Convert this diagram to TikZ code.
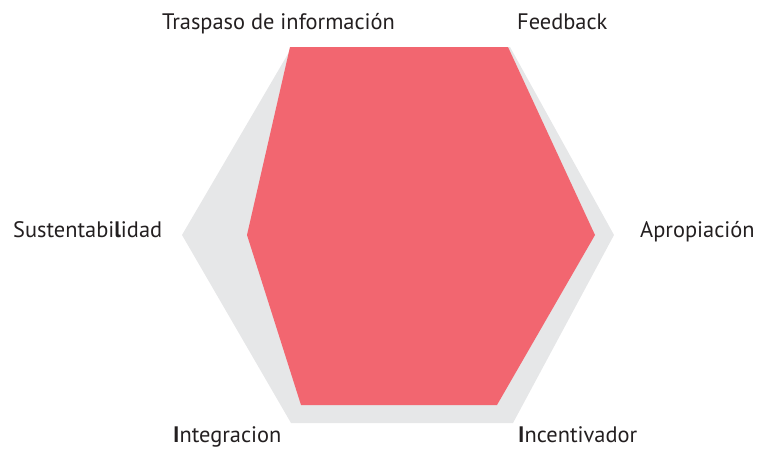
\documentclass[tikz,border=0pt]{standalone}
\usepackage{fontspec}
\setmainfont{PT Sans}
\definecolor{hexred}{HTML}{F26670}
\definecolor{hexgray}{HTML}{E6E7E8}
\definecolor{txt}{HTML}{231F20}
\begin{document}
\begin{tikzpicture}[x=1pt,y=-1pt,
  lbl/.style={anchor=base west,inner sep=0pt,font=\fontsize{22.4}{26}\selectfont,text=txt}]
\useasboundingbox (0,0) rectangle (761,455);
\fill[hexgray] (292,47) -- (510,47) -- (614,235) -- (513,423) -- (291,423) -- (182,235) -- cycle;
\fill[hexred] (290,47) -- (508,47) -- (595,235) -- (497,405) -- (301,405) -- (247,235) -- cycle;
\node[lbl] (tras) at (162,30) {Traspaso de información};
\node[lbl] (feed) at (517,30) {Feedback};
\node[lbl] (sust) at (13,237) {Sustentabi{\bfseries l}idad};
\node[lbl] (apro) at (640,237) {Apropiación};
\node[lbl] (inte) at (173,442) {{\bfseries I}ntegracion};
\node[lbl] (ince) at (518,442) {{\bfseries I}ncentivador};
\end{tikzpicture}
\end{document}
